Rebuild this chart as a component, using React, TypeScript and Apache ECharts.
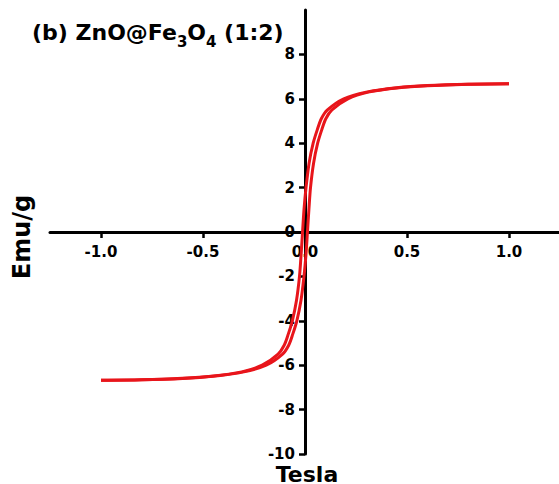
import React, { useEffect, useRef } from "react";
import * as echarts from "echarts";

const ascendingBranch: [number, number][] = [
  [-1.0, -6.68], [-0.8, -6.66], [-0.6, -6.6], [-0.45, -6.5], [-0.3, -6.3],
  [-0.19, -6.0], [-0.11, -5.5], [-0.08, -5.1], [-0.06, -4.6], [-0.04, -4.0],
  [-0.02, -3.1], [-0.005, -2.0], [0.005, -1.0], [0.012, 0], [0.019, 1.0],
  [0.027, 2.0], [0.042, 3.1], [0.062, 4.0], [0.082, 4.6], [0.102, 5.1],
  [0.132, 5.5], [0.21, 6.0], [0.31, 6.3], [0.46, 6.5], [0.6, 6.59],
  [0.8, 6.66], [1.0, 6.68],
];

const descendingBranch: [number, number][] = [
  [1.0, 6.68], [0.8, 6.66], [0.6, 6.6], [0.45, 6.5], [0.3, 6.3],
  [0.19, 6.0], [0.11, 5.5], [0.08, 5.1], [0.06, 4.6], [0.04, 4.0],
  [0.02, 3.1], [0.005, 2.0], [-0.005, 1.0], [-0.012, 0], [-0.019, -1.0],
  [-0.027, -2.0], [-0.042, -3.1], [-0.062, -4.0], [-0.082, -4.6], [-0.102, -5.1],
  [-0.132, -5.5], [-0.21, -6.0], [-0.31, -6.3], [-0.46, -6.5], [-0.6, -6.59],
  [-0.8, -6.66], [-1.0, -6.68],
];

const xTickValues = [-1, -0.5, 0, 0.5, 1];
const yTickValues = [-10, -8, -6, -4, -2, 0, 2, 4, 6, 8];

const FONT = "DejaVu Sans";
const RED = "#e8151b";

export default function App() {
  const ref = useRef<HTMLDivElement>(null);
  useEffect(() => {
    if (!ref.current) return;
    const chart = echarts.init(ref.current, null, { renderer: "svg" });
    const axisCommon = {
      type: "value" as const,
      axisLine: { show: true, onZero: false, lineStyle: { color: "#000", width: 3 } },
      splitLine: { show: false },
    };
    chart.setOption({
      animation: false,
      backgroundColor: "#fff",
      title: {
        left: 27,
        top: 11,
        text: "{a|(b) ZnO@Fe}{s|3}{a|O}{s|4}{a| (1:2)}",
        textStyle: {
          rich: {
            a: { fontFamily: FONT, fontWeight: "bold", fontSize: 22, color: "#000", lineHeight: 27, verticalAlign: "bottom" },
            s: { fontFamily: FONT, fontWeight: "bold", fontSize: 15, color: "#000", lineHeight: 27, verticalAlign: "bottom", padding: [0, 0, -6, 0] },
          },
        },
      },
      grid: { left: 50, top: 10, width: 510, height: 444, outerBoundsMode: "none", containLabel: false },
      xAxis: {
        ...axisCommon,
        position: "bottom",
        offset: -222,
        min: -1.25,
        max: 1.25,
        axisTick: { show: true, customValues: xTickValues, length: 6, lineStyle: { color: "#000", width: 2.5 } },
        axisLabel: {
          customValues: xTickValues,
          formatter: (v: number) => v.toFixed(1),
          fontFamily: FONT,
          fontWeight: "bold",
          fontSize: 15,
          color: "#000",
          margin: 12,
        },
      },
      yAxis: {
        ...axisCommon,
        position: "left",
        offset: -255,
        min: -10,
        max: 10,
        axisTick: { show: true, customValues: yTickValues, length: 6, lineStyle: { color: "#000", width: 2.5 } },
        axisLabel: {
          customValues: yTickValues,
          formatter: (v: number) => String(v),
          fontFamily: FONT,
          fontWeight: "bold",
          fontSize: 15,
          color: "#000",
          margin: 10,
        },
      },
      graphic: [
        {
          type: "text",
          x: 22,
          y: 237,
          rotation: Math.PI / 2,
          style: { text: "Emu/g", fontFamily: FONT, fontWeight: "bold", fontSize: 24, fill: "#000", align: "center", verticalAlign: "middle" },
        },
        {
          type: "text",
          x: 307,
          y: 474,
          style: { text: "Tesla", fontFamily: FONT, fontWeight: "bold", fontSize: 22, fill: "#000", align: "center", verticalAlign: "middle" },
        },
      ],
      series: [
        {
          type: "line",
          data: ascendingBranch,
          smooth: 0.3,
          showSymbol: false,
          lineStyle: { color: RED, width: 3 },
          z: 1,
        },
        {
          type: "line",
          data: descendingBranch,
          smooth: 0.3,
          showSymbol: false,
          lineStyle: { color: RED, width: 3 },
          z: 1,
        },
      ],
    });
    return () => chart.dispose();
  }, []);
  return <div ref={ref} style={{ position: "fixed", left: 0, top: 0, width: 559, height: 484 }} />;
}
